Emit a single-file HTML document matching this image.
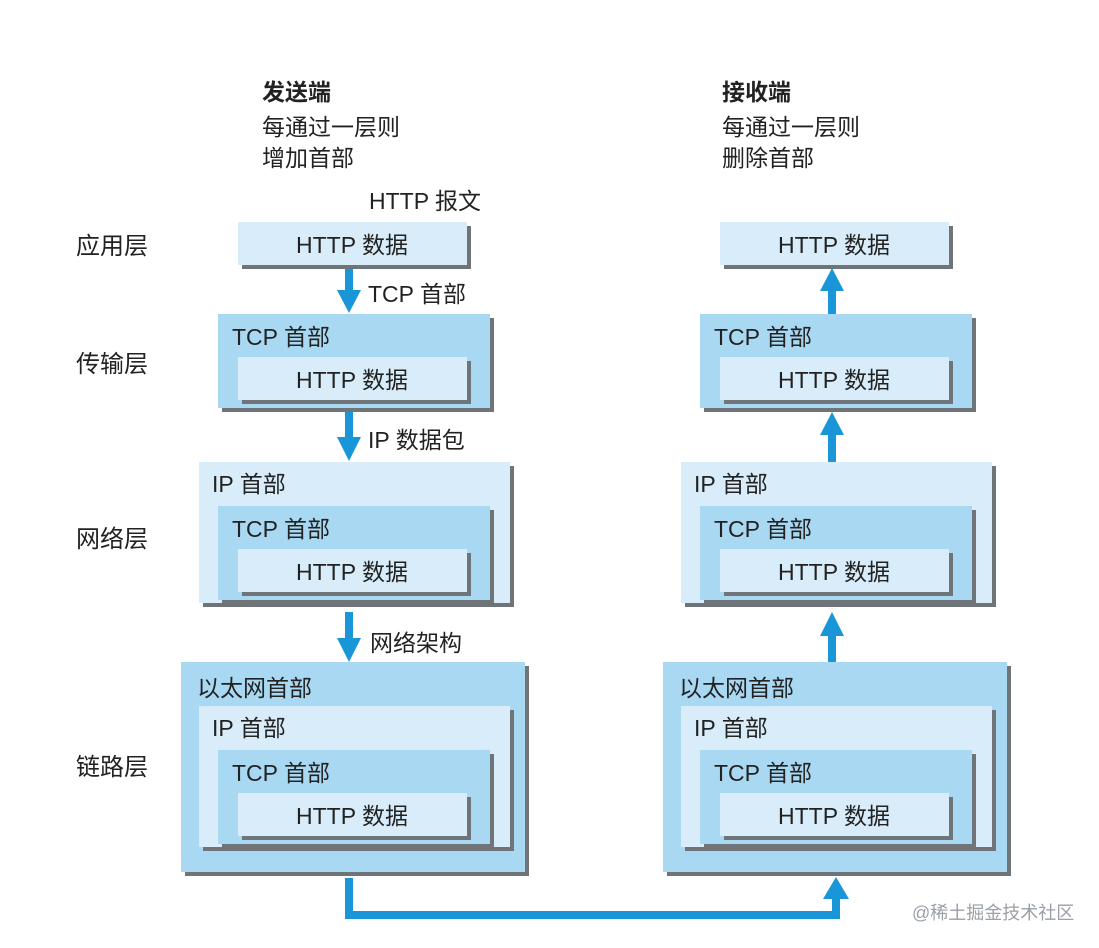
<!DOCTYPE html>
<html><head><meta charset="utf-8"><style>
html,body{margin:0;padding:0;background:#fff;}
svg{display:block;}
text{font-family:"Liberation Sans","Noto Sans CJK SC",sans-serif;fill:#222;}
</style></head><body>
<svg width="1099" height="948" viewBox="0 0 1099 948" xmlns="http://www.w3.org/2000/svg">
<defs>
<g id="http"><rect x="4" y="4" width="229" height="43" fill="#6f7478"/><rect x="0" y="0" width="229" height="43" fill="#d8edf9"/><text x="114" y="31" font-size="23" text-anchor="middle">HTTP 数据</text></g>
<g id="tcp"><rect x="4" y="4" width="272" height="94" fill="#6f7478"/><rect x="0" y="0" width="272" height="94" fill="#a9d9f2"/><text x="14" y="31" font-size="23">TCP 首部</text><use href="#http" x="20" y="43"/></g>
<g id="ip"><rect x="4" y="4" width="311" height="141" fill="#6f7478"/><rect x="0" y="0" width="311" height="141" fill="#d8edf9"/><text x="13" y="30" font-size="23">IP 首部</text><use href="#tcp" x="19" y="44"/></g>
<g id="eth"><rect x="4" y="4" width="344" height="210" fill="#6f7478"/><rect x="0" y="0" width="344" height="210" fill="#a9d9f2"/><text x="16" y="34" font-size="23">以太网首部</text><use href="#ip" x="18" y="44"/></g>
</defs>

<text x="262" y="100" font-size="23" font-weight="bold">发送端</text>
<text x="262" y="135" font-size="23">每通过一层则</text>
<text x="262" y="166" font-size="23">增加首部</text>
<text x="722" y="100" font-size="23" font-weight="bold">接收端</text>
<text x="722" y="135" font-size="23">每通过一层则</text>
<text x="722" y="166" font-size="23">删除首部</text>
<text x="369" y="209" font-size="23">HTTP 报文</text>

<text x="76" y="254" font-size="24">应用层</text>
<text x="76" y="372" font-size="24">传输层</text>
<text x="76" y="547" font-size="24">网络层</text>
<text x="76" y="775" font-size="24">链路层</text>

<use href="#http" x="238" y="222"/>
<use href="#tcp" x="218" y="314"/>
<use href="#ip" x="199" y="462"/>
<use href="#eth" x="181" y="662"/>

<use href="#http" x="720" y="222"/>
<use href="#tcp" x="700" y="314"/>
<use href="#ip" x="681" y="462"/>
<use href="#eth" x="663" y="662"/>

<!-- down arrows -->
<rect x="345" y="269" width="8" height="23" fill="#1996d8"/><polygon points="337,290 361,290 349,313" fill="#1996d8"/>
<text x="368" y="302" font-size="23">TCP 首部</text>
<rect x="345" y="412" width="8" height="27" fill="#1996d8"/><polygon points="337,437 361,437 349,461" fill="#1996d8"/>
<text x="368" y="448" font-size="23">IP 数据包</text>
<rect x="345" y="612" width="8" height="28" fill="#1996d8"/><polygon points="337,638 361,638 349,662" fill="#1996d8"/>
<text x="370" y="651" font-size="23">网络架构</text>

<!-- up arrows -->
<polygon points="820,291 844,291 832,268" fill="#1996d8"/><rect x="828" y="289" width="8" height="25" fill="#1996d8"/>
<polygon points="820,435 844,435 832,412" fill="#1996d8"/><rect x="828" y="433" width="8" height="29" fill="#1996d8"/>
<polygon points="820,636 844,636 832,612" fill="#1996d8"/><rect x="828" y="634" width="8" height="28" fill="#1996d8"/>

<polyline points="349,878 349,915 836,915 836,895" fill="none" stroke="#1996d8" stroke-width="8"/>
<polygon points="823,899 849,899 836,877" fill="#1996d8"/>

<text x="912" y="919" font-size="18" style="fill:#9aa0a6">@稀土掘金技术社区</text>
</svg>
</body></html>
